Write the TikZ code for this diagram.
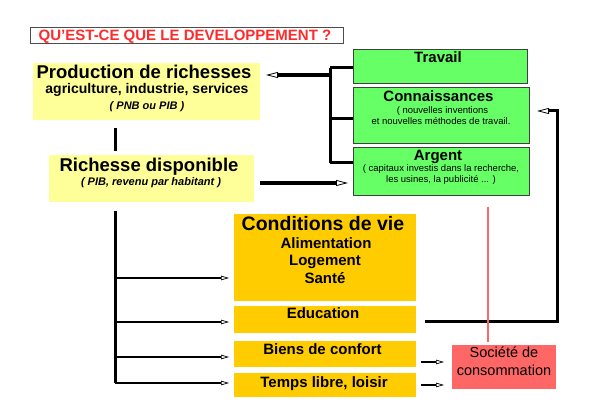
\documentclass[tikz,border=0pt]{standalone}
\usepackage{fontspec}
\setmainfont{Liberation Sans}
\usetikzlibrary{arrows.meta}
\definecolor{paleyellow}{HTML}{FFFF99}
\definecolor{leafgreen}{HTML}{66FF66}
\definecolor{amber}{HTML}{FFCC00}
\definecolor{coral}{HTML}{FF6666}
\definecolor{titlered}{HTML}{FF2B2B}
\tikzset{
  panel/.style={inner sep=0, outer sep=0, anchor=north west},
  yellowbox/.style={panel, fill=paleyellow},
  greenbox/.style={panel, fill=leafgreen, draw=black!75, line width=0.8pt},
  amberbox/.style={panel, fill=amber},
  redbox/.style={panel, fill=coral},
  txt/.style={inner sep=0, anchor=base},
  big/.style={txt, font=\fontsize{18.5}{20}\selectfont\bfseries},
  mid/.style={txt, font=\fontsize{15}{17}\selectfont\bfseries},
  sub/.style={txt, font=\fontsize{14}{16}\selectfont\bfseries},
  note/.style={txt, font=\fontsize{9.5}{11}\selectfont},
  italnote/.style={txt, font=\fontsize{11}{13}\selectfont\bfseries\itshape},
  opentip/.tip={Triangle[open, length=12pt, width=6pt, line width=0.8pt, fill=white]},
  smalltip/.tip={Triangle[open, length=8pt, width=4.5pt, line width=0.7pt, fill=white]},
  heavy/.style={line width=4pt, -{opentip}},
  wire/.style={line width=3pt},
  branch/.style={line width=2.5pt, -{smalltip}},
}
\begin{document}
\begin{tikzpicture}[x=1pt, y=-1pt]
\useasboundingbox[fill=white] (0,0) rectangle (590,417);

% title
\node[panel, fill=white, draw=black!70, line width=0.8pt,
      minimum width=313pt, minimum height=16pt] (titlebox) at (30,27) {};
\node[txt, text=titlered, font=\fontsize{15}{17}\selectfont\bfseries]
  (title) at (185,41) {QU’EST-CE QUE LE DEVELOPPEMENT ?};

% wealth boxes
\node[yellowbox, minimum width=227pt, minimum height=57pt] (prod) at (33,63) {};
\node[big] (prodA) at (144,79) {Production de richesses};
\node[sub] (prodB) at (147,94) {agriculture, industrie, services};
\node[italnote] (prodC) at (147,110) {( PNB ou PIB )};

\node[yellowbox, minimum width=205pt, minimum height=47pt] (rich) at (49,155) {};
\node[big] (richA) at (149,172) {Richesse disponible};
\node[italnote] (richB) at (151,186) {( PIB, revenu par habitant )};

% factors of production
\node[greenbox, minimum width=174pt, minimum height=34pt] (trav) at (353,49) {};
\node[mid] (travA) at (438,63) {Travail};

\node[greenbox, minimum width=176pt, minimum height=56pt] (conn) at (353,87) {};
\node[mid] (connA) at (438.5,102) {Connaissances};
\node[note] (connB) at (442.5,114) {( nouvelles inventions};
\node[note] (connC) at (441,125) {et nouvelles méthodes de travail.};

\node[greenbox, minimum width=176pt, minimum height=48pt] (arg) at (353,147) {};
\node[mid] (argA) at (438,161) {Argent};
\node[note] (argB) at (441,172) {( capitaux investis dans la recherche,};
\node[note] (argC) at (441,183) {les usines, la publicité ... )};

% uses of wealth
\node[amberbox, minimum width=182pt, minimum height=87pt] (cond) at (234,214) {};
\node[txt, font=\fontsize{19.5}{21}\selectfont\bfseries] (condA) at (323,231) {Conditions de vie};
\node[mid] (condB) at (326,249) {Alimentation};
\node[mid] (condC) at (325,266) {Logement};
\node[mid] (condD) at (325,284) {Santé};

\node[amberbox, minimum width=182pt, minimum height=27pt] (educ) at (234,306) {};
\node[mid] (educA) at (323,319) {Education};

\node[amberbox, minimum width=182pt, minimum height=26pt] (biens) at (234,341) {};
\node[mid] (biensA) at (322.5,354) {Biens de confort};

\node[amberbox, minimum width=182pt, minimum height=24pt] (temps) at (234,373) {};
\node[mid] (tempsA) at (324,387) {Temps libre, loisir};

\node[redbox, minimum width=104pt, minimum height=44pt] (soc) at (452,345) {};
\node[txt, font=\fontsize{14.5}{16}\selectfont] (socA) at (504,358) {Société de};
\node[txt, font=\fontsize{14.5}{16}\selectfont] (socB) at (504,375) {consommation};

% connectors
\coordinate (spineTop) at (115,211);
\coordinate (spineBot) at (115,383);
\draw[wire] (115,128) -- (115,151);
\draw[wire] (spineTop) -- (spineBot);
\draw[branch] (115,278) -- (229,278);
\draw[branch] (115,322) -- (229,322);
\draw[branch] (115,357) -- (229,357);
\draw[branch] (spineBot) -- (229,383);

\draw[heavy] (rich.east |- 0,183) ++(6,0) -- (348,183);

\coordinate (hubTop) at (330,68);
\coordinate (hubBot) at (330,163);
\draw[wire] (hubTop) -- (hubBot);
\draw[wire] (hubTop) -- (hubTop -| trav.west);
\draw[wire] (330,119) -- (330,119 -| conn.west);
\draw[wire] (hubBot) -- (hubBot -| arg.west);
\draw[heavy] (330,75) -- (266,75);

\coordinate (loopA) at (425,322);
\coordinate (loopB) at (557,322);
\coordinate (loopC) at (557,111);
\draw[wire, -{opentip}] (loopA) -- (loopB) -- (loopC) -- (537,111);

\draw[coral, line width=2pt] (488,207) -- (488,342);

\draw[branch] (421,362) -- (444,362);
\draw[branch] (421,385) -- (444,385);
\end{tikzpicture}
\end{document}
